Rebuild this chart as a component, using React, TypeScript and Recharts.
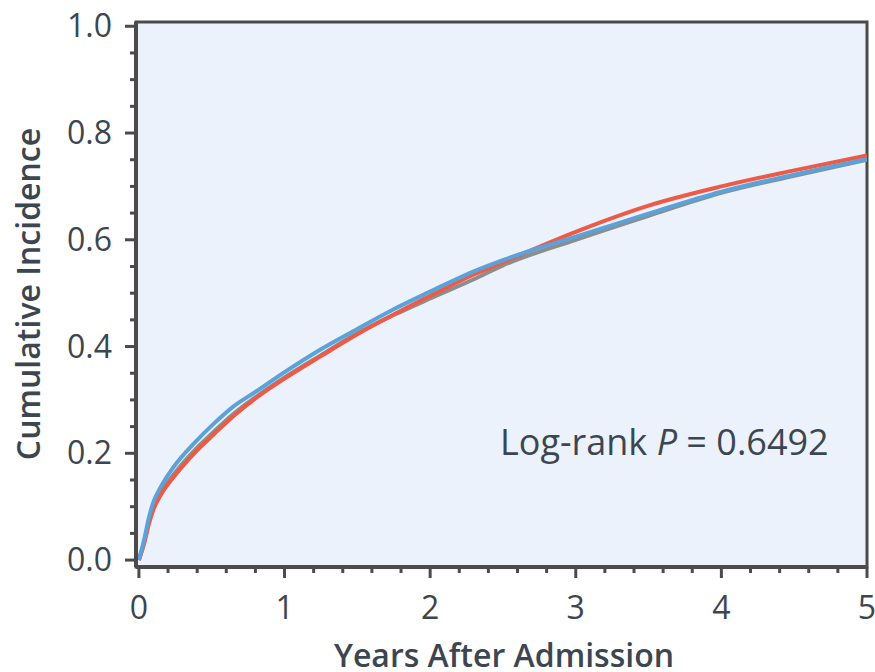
import { CartesianGrid, Line, LineChart, ReferenceArea, XAxis, YAxis } from "recharts";

// follow-up times (years) and cumulative incidence for each group
const years = [0, 0.035, 0.07, 0.1, 0.15, 0.24, 0.38, 0.52, 0.65, 0.8, 1.0, 1.25, 1.5, 1.75, 2.0, 2.3, 2.5, 3.0, 3.5, 4.0, 4.5, 5.0];
const blueGroup = [0, 0.037, 0.081, 0.109, 0.137, 0.175, 0.219, 0.257, 0.288, 0.315, 0.352, 0.395, 0.433, 0.47, 0.503, 0.541, 0.562, 0.606, 0.649, 0.69, 0.722, 0.751];
const redGroup = [0, 0.03, 0.069, 0.095, 0.122, 0.156, 0.2, 0.237, 0.27, 0.303, 0.34, 0.382, 0.423, 0.46, 0.495, 0.535, 0.558, 0.615, 0.664, 0.7, 0.73, 0.758];
const grayGroup = [0, 0.033, 0.074, 0.1, 0.127, 0.161, 0.205, 0.242, 0.274, 0.305, 0.342, 0.384, 0.425, 0.459, 0.49, 0.526, 0.552, 0.6, 0.645, 0.688, 0.72, 0.75];

const xTicks = [0, 0.2, 0.4, 0.6, 0.8, 1, 1.2, 1.4, 1.6, 1.8, 2, 2.2, 2.4, 2.6, 2.8, 3, 3.2, 3.4, 3.6, 3.8, 4, 4.2, 4.4, 4.6, 4.8, 5];
const yTicks = [0, 0.05, 0.1, 0.15, 0.2, 0.25, 0.3, 0.35, 0.4, 0.45, 0.5, 0.55, 0.6, 0.65, 0.7, 0.75, 0.8, 0.85, 0.9, 0.95, 1];

const data = years.map((t, i) => ({
  t,
  blue: blueGroup[i],
  red: redGroup[i],
  gray: grayGroup[i],
}));

const AXIS = "#4b4b4b";
const TEXT = "#3c4650";
const FONT = "'Open Sans', 'Noto Sans', sans-serif";

const isMajor = (v: number, step: number) => Math.abs(v / step - Math.round(v / step)) < 1e-6;

function XTick({ x, y, payload }: any) {
  const major = isMajor(payload.value, 1);
  return (
    <g>
      <line x1={x} x2={x} y1={y} y2={y + (major ? 11 : 6)} stroke={AXIS} strokeWidth={3} />
      {major && (
        <text x={x} y={y + 52} textAnchor="middle" fill={TEXT} fontSize={32} fontFamily={FONT}>
          {payload.value}
        </text>
      )}
    </g>
  );
}

function YTick({ x, y, payload }: any) {
  const major = isMajor(payload.value, 0.2);
  return (
    <g>
      <line x1={x} x2={x - (major ? 11 : 6)} y1={y} y2={y} stroke={AXIS} strokeWidth={3} />
      {major && (
        <text x={x - 24} y={y + 11} textAnchor="end" fill={TEXT} fontSize={32} fontFamily={FONT}>
          {payload.value.toFixed(1)}
        </text>
      )}
    </g>
  );
}

export default function App() {
  return (
    <div style={{ position: "absolute", left: 0, top: 0, width: 875, height: 672, background: "#fff" }}>
      <LineChart width={875} height={672} data={data} margin={{ top: 22, right: 8, bottom: 0, left: 0 }}>
        <CartesianGrid horizontal={false} vertical={false} fill="#EBF2FB" />
        <ReferenceArea
          x1={-0.02}
          x2={5}
          y1={-0.013}
          y2={1.008}
          fill="none"
          stroke={AXIS}
          strokeWidth={3}
          ifOverflow="extendDomain"
        />
        <XAxis
          dataKey="t"
          type="number"
          domain={[-0.02, 5]}
          ticks={xTicks}
          interval={0}
          height={105}
          tickSize={0}
          tickMargin={0}
          tickLine={false}
          tick={<XTick />}
          axisLine={{ stroke: AXIS, strokeWidth: 4 }}
          allowDataOverflow
        />
        <YAxis
          type="number"
          domain={[-0.013, 1.008]}
          ticks={yTicks}
          interval={0}
          width={136}
          tickSize={0}
          tickMargin={0}
          tickLine={false}
          tick={<YTick />}
          axisLine={{ stroke: AXIS, strokeWidth: 4 }}
          allowDataOverflow
        />
        <Line dataKey="gray" type="monotone" stroke="#8d8d8d" strokeWidth={4} dot={false} isAnimationActive={false} />
        <Line dataKey="red" type="monotone" stroke="#EE5A45" strokeWidth={4} dot={false} isAnimationActive={false} />
        <Line dataKey="blue" type="monotone" stroke="#5BA2DA" strokeWidth={4} dot={false} isAnimationActive={false} />
      </LineChart>
      <svg width={875} height={672} style={{ position: "absolute", left: 0, top: 0, pointerEvents: "none" }}>
        <text
          transform="translate(40 294) rotate(-90)"
          textAnchor="middle"
          fill={TEXT}
          fontSize={32}
          fontWeight={600}
          fontFamily={FONT}
        >
          Cumulative Incidence
        </text>
        <text x={504} y={667} textAnchor="middle" fill={TEXT} fontSize={32} fontWeight={600} fontFamily={FONT}>
          Years After Admission
        </text>
        <text x={500} y={455} fill={TEXT} fontSize={36} fontFamily={FONT}>
          Log-rank <tspan fontStyle="italic">P</tspan> = 0.6492
        </text>
      </svg>
    </div>
  );
}
